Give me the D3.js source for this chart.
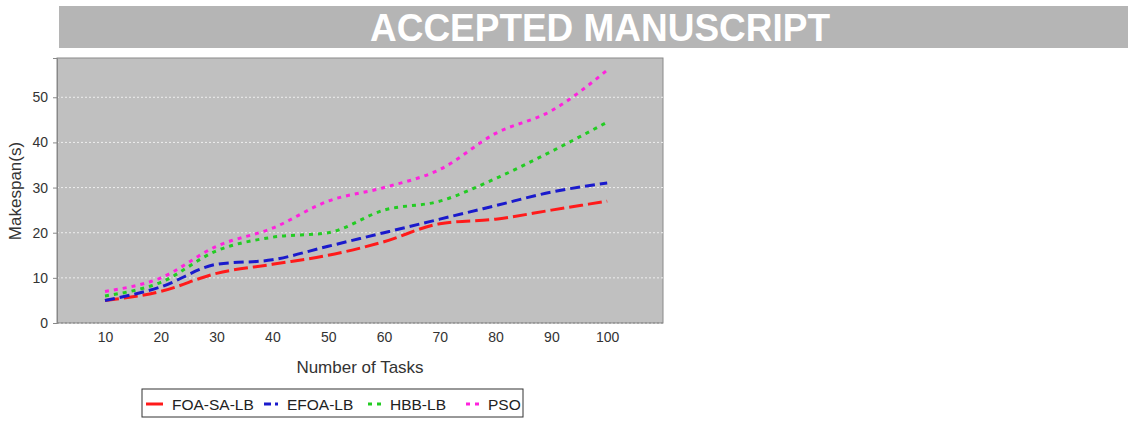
<!DOCTYPE html>
<html>
<head>
<meta charset="utf-8">
<style>
  body { margin: 0; background: #fff; }
  text { font-family: "Liberation Sans", Arial, sans-serif; }
</style>
</head>
<body>
<svg width="1128" height="421"></svg>
<script src="https://d3js.org/d3.v7.min.js"></script>
<script>

var tasks = [10, 20, 30, 40, 50, 60, 70, 80, 90, 100];
var foaSaLb = [5, 7, 11, 13, 15, 18, 22, 23, 25, 27];
var efoaLb  = [5, 8, 13, 14, 17, 20, 23, 26, 29, 31];
var hbbLb   = [6, 9, 16, 19, 20, 25, 27, 32, 38, 44.5];
var pso     = [7, 10, 17, 21, 27, 30, 34, 42, 47, 56];
var yTicks  = [0, 10, 20, 30, 40, 50];

var series = [
  {name: "FOA-SA-LB", values: foaSaLb, color: "#ff1a1a", dash: "14,5"},
  {name: "EFOA-LB",   values: efoaLb,  color: "#1a1acc", dash: "10,5"},
  {name: "HBB-LB",    values: hbbLb,   color: "#22cc22", dash: "4,5"},
  {name: "PSO",       values: pso,     color: "#ff22dd", dash: "4,5"}
];

var svg = d3.select("svg"),
    margin = {top: 58, left: 57, right: 465, bottom: 98},
    width = +svg.attr("width") - margin.left - margin.right,
    height = +svg.attr("height") - margin.top - margin.bottom;

// banner
svg.append("rect")
    .attr("x", 59).attr("y", 6)
    .attr("width", 1069).attr("height", 42)
    .attr("fill", "#b5b5b5");
svg.append("text")
    .attr("x", 370).attr("y", 41)
    .attr("fill", "#fff")
    .attr("font-weight", "bold")
    .attr("font-size", 38)
    .attr("textLength", 460)
    .attr("lengthAdjust", "spacingAndGlyphs")
    .text("ACCEPTED MANUSCRIPT");

var g = svg.append("g").attr("transform", "translate(" + margin.left + "," + margin.top + ")");

var x = d3.scaleLinear()
    .domain([1.4, 110])
    .range([0, width]);

var y = d3.scaleLinear()
    .domain([0, 58.7])
    .range([height, 0]);

g.append("rect")
    .attr("width", width).attr("height", height)
    .attr("fill", "#c0c0c0")
    .attr("stroke", "#8a8a8a");

// gridlines
g.selectAll(".grid")
  .data(yTicks)
  .enter().append("line")
    .attr("x1", 0).attr("x2", width)
    .attr("y1", function(d) { return y(d); })
    .attr("y2", function(d) { return y(d); })
    .attr("stroke", function(d) { return d === 0 ? "#888" : "#eeeeee"; })
    .attr("stroke-width", 1)
    .attr("stroke-dasharray", "2,2");

// axes
var yAxis = g.append("g")
    .call(d3.axisLeft(y).tickValues(yTicks).tickSize(4).tickPadding(5));
yAxis.select(".domain").attr("stroke", "#888");
yAxis.selectAll(".tick line").attr("stroke", "#888");
yAxis.selectAll("text").attr("font-size", 14).attr("fill", "#333")
    .attr("font-family", "\"Liberation Sans\", Arial, sans-serif");

var xAxis = g.append("g")
    .attr("transform", "translate(0," + height + ")")
    .call(d3.axisBottom(x).tickValues(tasks).tickSize(0).tickPadding(9));
xAxis.select(".domain").remove();
xAxis.selectAll("text").attr("font-size", 14).attr("fill", "#333")
    .attr("font-family", "\"Liberation Sans\", Arial, sans-serif");

svg.append("text")
    .attr("transform", "translate(21,191) rotate(-90)")
    .attr("text-anchor", "middle")
    .attr("font-size", 17)
    .attr("fill", "#333")
    .text("Makespan(s)");

svg.append("text")
    .attr("x", 360)
    .attr("y", 373)
    .attr("text-anchor", "middle")
    .attr("font-size", 17)
    .attr("fill", "#333")
    .text("Number of Tasks");

// lines
var line = d3.line()
    .x(function(d, i) { return x(tasks[i]); })
    .y(function(d) { return y(d); })
    .curve(d3.curveMonotoneX);

g.selectAll(".series")
  .data(series)
  .enter().append("path")
    .attr("fill", "none")
    .attr("stroke", function(d) { return d.color; })
    .attr("stroke-width", 3)
    .attr("stroke-dasharray", function(d) { return d.dash; })
    .attr("d", function(d) { return line(d.values); });

// legend
var legend = svg.append("g").attr("transform", "translate(142,389)");
legend.append("rect")
    .attr("width", 381).attr("height", 28)
    .attr("fill", "#fff")
    .attr("stroke", "#333");

var sampleX = [4, 122, 226, 324];
var labelX = [30, 145, 248, 346];
var sampleDash = [null, "7,4,3,4", "4,5", "4,5"];

legend.selectAll(".sample")
  .data(series)
  .enter().append("line")
    .attr("x1", function(d, i) { return sampleX[i]; })
    .attr("x2", function(d, i) { return sampleX[i] + 17; })
    .attr("y1", 15).attr("y2", 15)
    .attr("stroke", function(d) { return d.color; })
    .attr("stroke-width", 3)
    .attr("stroke-dasharray", function(d, i) { return sampleDash[i]; });

legend.selectAll(".label")
  .data(series)
  .enter().append("text")
    .attr("x", function(d, i) { return labelX[i]; })
    .attr("y", 20.5)
    .attr("font-size", 15.5)
    .attr("fill", "#222")
    .text(function(d) { return d.name; });

</script>
</body>
</html>
